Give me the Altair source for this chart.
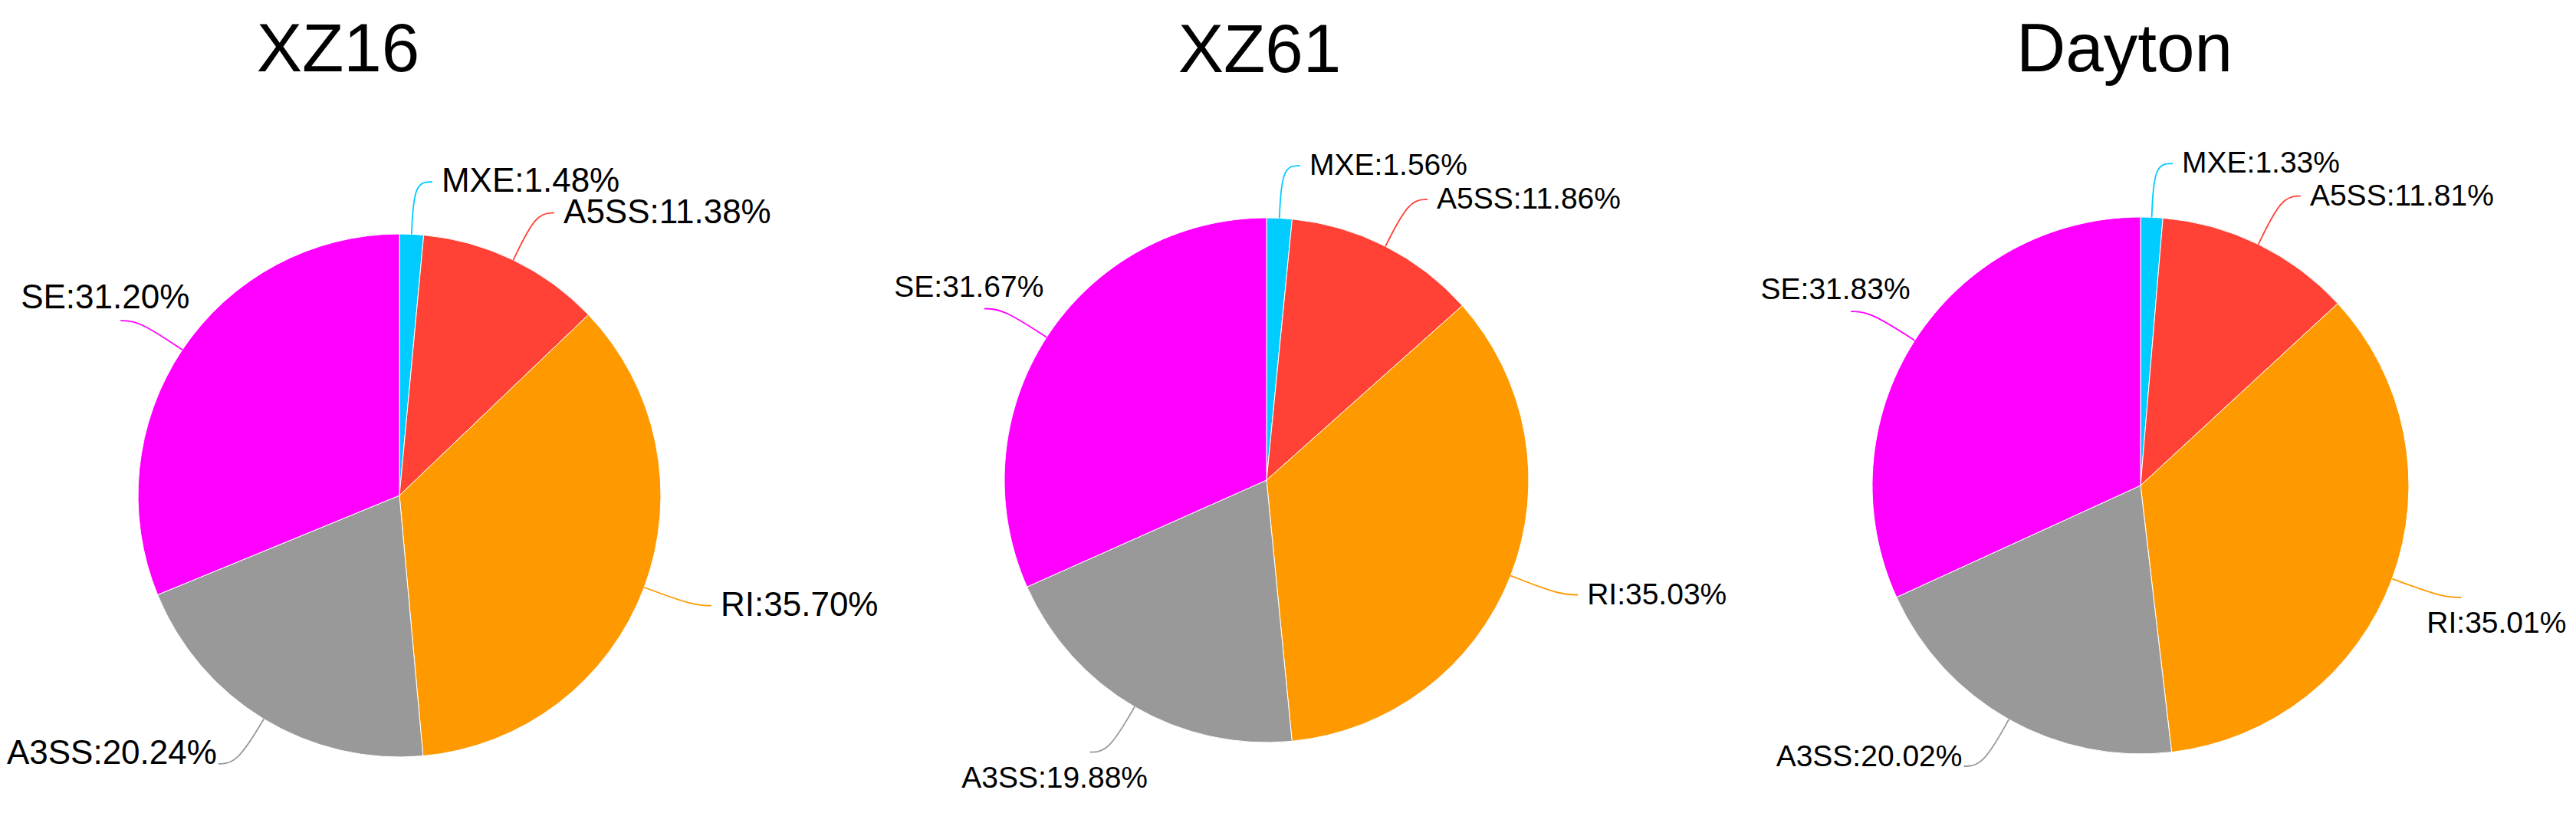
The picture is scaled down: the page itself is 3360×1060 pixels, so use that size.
import altair as alt
import pandas as pd

# splice event types, clockwise from 12 o'clock
types = ["MXE", "A5SS", "RI", "A3SS", "SE"]
colors = ["#00CCFF", "#FF4136", "#FF9900", "#999999", "#FF00FF"]

samples = ["XZ16", "XZ61", "Dayton"]
xz16 = [1.48, 11.38, 35.70, 20.24, 31.20]
xz61 = [1.56, 11.86, 35.03, 19.88, 31.67]
dayton = [1.33, 11.81, 35.01, 20.02, 31.83]

FONT = "Liberation Sans"

color = alt.Color("type:N", scale=alt.Scale(domain=types, range=colors), legend=None)


def in_list(field, vals):
    if not vals:
        return "false"
    return "(" + " || ".join(f"datum.{field} == {v}" for v in vals) + ")"


def pie(name, values, w, h, r, label_size, title_offset, title_dx, hang=()):
    # hang: quadrants (0=upper right .. 3=upper left) whose labels hang below the leader
    df = pd.DataFrame({"type": types, "value": values, "order": list(range(len(types)))})

    xs = alt.X("px:Q", scale=alt.Scale(domain=[-w / 2, w / 2], nice=False, zero=False), axis=None)
    ys = alt.Y("py:Q", scale=alt.Scale(domain=[-h / 2, h / 2], nice=False, zero=False), axis=None)

    out = 1.2 * r    # where the leader bends
    tail = 0.07 * r  # short horizontal end of the leader

    base = (
        alt.Chart(df)
        .transform_joinaggregate(total="sum(value)")
        .transform_window(cum="sum(value)", sort=[alt.SortField("order")], frame=[None, 0])
        .transform_calculate(mid="2*PI*(datum.cum - datum.value/2)/datum.total")
        .transform_calculate(side="sin(datum.mid) >= 0 ? 1 : -1")
        .transform_calculate(quad="floor(datum.mid / (PI/2))")
    )

    arcs = alt.Chart(df).mark_arc(radius=r, stroke="white", strokeWidth=1).encode(
        theta=alt.Theta("value:Q", stack=True),
        color=color,
        order=alt.Order("order:Q"),
    )

    # leader lines: slice edge -> bend -> short horizontal tail
    leaders = (
        base.transform_calculate(pt="[0, 1, 2]")
        .transform_flatten(["pt"])
        .transform_calculate(rr=f"datum.pt == 0 ? {r} : {out}")
        .transform_calculate(
            px=f"datum.rr*sin(datum.mid) + (datum.pt == 2 ? datum.side*{tail} : 0)",
            py="datum.rr*cos(datum.mid)",
        )
        .mark_line(interpolate="basis", strokeWidth=1.8)
        .encode(x=xs, y=ys, color=color, detail="type:N", order="pt:Q")
    )

    tbase = base.transform_calculate(
        px=f"{out}*sin(datum.mid) + datum.side*{tail}",
        py=f"{out}*cos(datum.mid)",
        label="datum.type + ':' + format(datum.value, '.2f') + '%'",
    )
    hung = in_list("quad", list(hang))
    txt = dict(font=FONT, fontSize=label_size, color="black")
    enc = dict(x=xs, y=ys, text="label:N")

    right = tbase.transform_filter(f"datum.quad <= 1 && !{hung}").mark_text(
        align="left", baseline="middle", dx=12, **txt
    ).encode(**enc)
    low_left = tbase.transform_filter(f"datum.quad == 2 && !{hung}").mark_text(
        align="right", baseline="alphabetic", dx=-2, **txt
    ).encode(**enc)
    up_left = tbase.transform_filter(f"datum.quad == 3 && !{hung}").mark_text(
        align="center", baseline="alphabetic", dx=-20, dy=-16, **txt
    ).encode(**enc)
    below = (
        tbase.transform_filter(hung)
        .transform_calculate(px="datum.px + datum.side*46")
        .mark_text(align="center", baseline="alphabetic", dy=46, **txt)
        .encode(**enc)
    )

    return alt.layer(arcs, leaders, right, low_left, up_left, below).properties(
        width=w,
        height=h,
        title=alt.TitleParams(
            name,
            font=FONT,
            fontSize=89,
            fontWeight="normal",
            color="black",
            anchor="middle",
            frame="group",
            baseline="alphabetic",
            offset=title_offset,
            dx=title_dx,
        ),
    )


p1 = pie(samples[0], xz16, 1022, 780, 341, 44, 33, -80)
p2 = pie(samples[1], xz61, 1240, 740, 342, 39, 14, -9, hang=(2,))
p3 = pie(samples[2], dayton, 1040, 754, 350, 39, 12, -21, hang=(1,))

chart = (
    alt.hconcat(p1, p2, p3, spacing=0, bounds="flush")
    .properties(padding={"top": 14, "left": 0, "right": 0, "bottom": 0})
    .configure_view(stroke=None)
)

chart.save("out.html", embed_options={"renderer": "svg", "actions": False})
